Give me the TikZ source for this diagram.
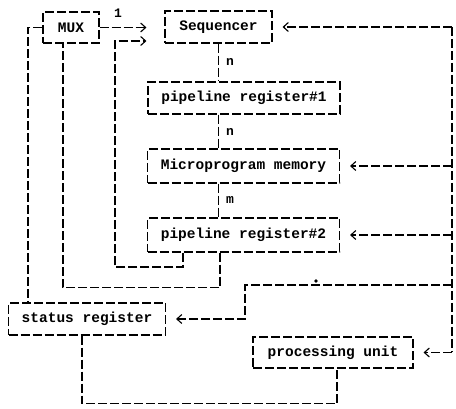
\documentclass[tikz,border=0pt]{standalone}
\usepackage{fontspec}
\setmonofont{Liberation Mono}
\usetikzlibrary{arrows.meta}
\begin{document}
\begin{tikzpicture}[x=1pt,y=-1pt,
  dl/.style={dash pattern=on 9pt off 3pt, line width=1.1pt},
  box/.style={draw, dl, rectangle, inner sep=0pt, font=\fontsize{14.5}{16}\selectfont\ttfamily\bfseries},
  arr/.style={dl, -{Straight Barb[length=5pt,width=9pt,line width=1.1pt]}, shorten >=10pt},
  lab/.style={font=\fontsize{13}{15}\selectfont\ttfamily\bfseries, inner sep=1pt}]
\useasboundingbox (0,0) rectangle (456,409);
\node[box, minimum width=56pt, minimum height=31pt] (mux) at (71,27.5) {MUX};
\node[box, minimum width=107pt, minimum height=32pt] (seq) at (218.5,27) {Sequencer};
\node[box, minimum width=192pt, minimum height=32pt] (pr1) at (244,98) {pipeline register\#1};
\node[box, minimum width=192pt, minimum height=34pt] (mm) at (243.5,166) {Microprogram memory};
\node[box, minimum width=192pt, minimum height=34pt] (pr2) at (243.5,235) {pipeline register\#2};
\node[box, minimum width=157pt, minimum height=32pt] (st) at (87,319) {status register};
\node[box, minimum width=160pt, minimum height=31pt] (pu) at (333,352.5) {processing unit};
% labels
\node[lab] (l1) at (118,13) {1};
\node[lab] (ln1) at (230,62) {n};
\node[lab] (ln2) at (230,132) {n};
\node[lab] (lm) at (230,200) {m};
% vertical chain
\draw[dl] (seq.south) -- (seq.south |- pr1.north);
\draw[dl] (seq.south |- pr1.south) -- (seq.south |- mm.north);
\draw[dl] (seq.south |- mm.south) -- (seq.south |- pr2.north);
% MUX to Sequencer
\draw[arr, shorten >=18pt] (mux.east) -- (mux.east -| seq.west);
% pr2 to Sequencer
\draw[arr, shorten >=18pt] ([xshift=-60.5pt]pr2.south) |- (115,267) |- ([yshift=-14pt]seq.west);
% pr2 to MUX
\draw[dl] ([xshift=-23.5pt]pr2.south) -- ++(0,35) -| ([xshift=-8pt]mux.south);
% MUX to status register
\draw[dl] (mux.west) -| ([xshift=-59pt]st.north);
% status register to processing unit
\draw[dl] ([xshift=-5pt]st.south) -- ++(0,68) -| ([xshift=4pt]pu.south);
% right bus
\coordinate (bt) at (452,27);
\coordinate (bb) at (452,352.5);
\coordinate (bj) at (452,285);
\draw[dl] (bt) -- (bb);
\draw[arr] (bt) -- (seq.east);
\draw[arr] (bt |- mm.east) -- (mm.east);
\draw[arr] (bt |- pr2.east) -- (pr2.east);
\draw[arr] (bb) -- (pu.east);
\draw[arr] (bj) -- (245,285) |- (st.east);
\fill (316,281) circle (1.8pt);
\end{tikzpicture}
\end{document}
